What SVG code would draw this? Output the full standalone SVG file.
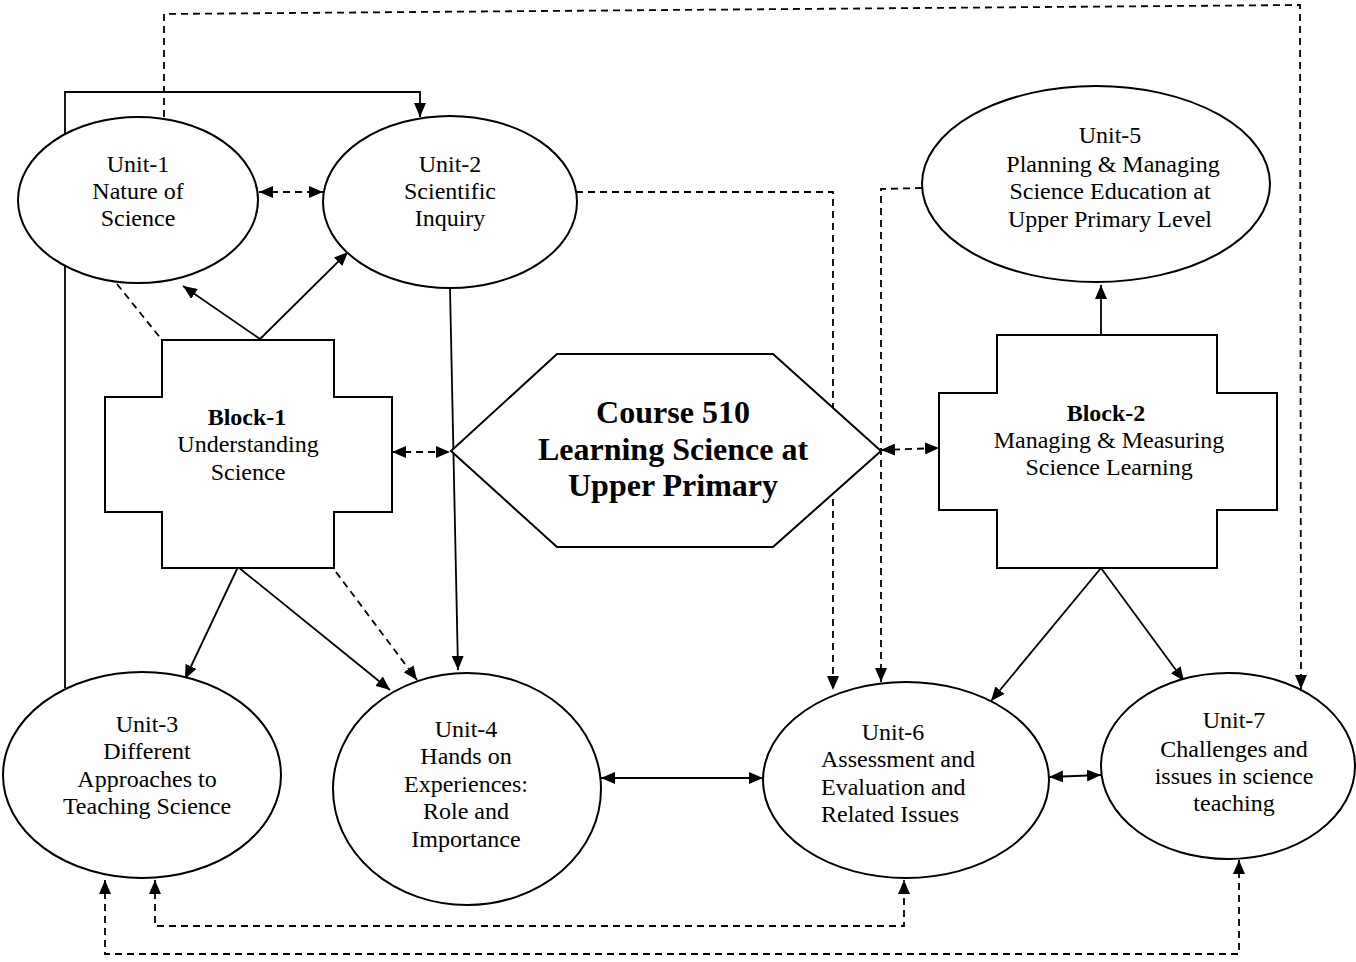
<svg xmlns="http://www.w3.org/2000/svg" width="1356" height="962" viewBox="0 0 1356 962">
<style>
.n{fill:#fff;stroke:#000;stroke-width:2}
.c{fill:none;stroke:#000;stroke-width:1.8}
.d{stroke-dasharray:7,5}
text{font-family:"Liberation Serif","Times New Roman",serif;font-size:24px;fill:#000;text-anchor:middle}
.b{font-weight:bold}
.h{font-size:32px;font-weight:bold}
</style>
<defs>
<marker id="a" viewBox="0 0 14 12" refX="14" refY="6" markerWidth="14" markerHeight="12" markerUnits="userSpaceOnUse" orient="auto-start-reverse"><path d="M0,0 L14,6 L0,12 z" fill="#000"/></marker>
</defs>
<rect width="1356" height="962" fill="#fff"/>
<g id="connectors">
<polyline class="c" points="65,688 65,92 420,92 420,117" marker-end="url(#a)"/>
<polyline class="c d" points="164,117 164,14 1300,5 1301,689" marker-end="url(#a)"/>
<line class="c d" x1="259" y1="192" x2="323" y2="192" marker-start="url(#a)" marker-end="url(#a)"/>
<polyline class="c d" points="576,192 833,192 833,690" marker-end="url(#a)"/>
<polyline class="c d" points="922,188 881,189 881,682" marker-end="url(#a)"/>
<line class="c" x1="1101" y1="336" x2="1101" y2="285" marker-end="url(#a)"/>
<line class="c" x1="260" y1="339" x2="183" y2="286" marker-end="url(#a)"/>
<line class="c" x1="260" y1="339" x2="348" y2="252" marker-end="url(#a)"/>
<line class="c d" x1="117" y1="284" x2="162" y2="340"/>
<line class="c d" x1="392" y1="452" x2="450" y2="452" marker-start="url(#a)" marker-end="url(#a)"/>
<line class="c d" x1="881" y1="450" x2="939" y2="448" marker-start="url(#a)" marker-end="url(#a)"/>
<line class="c" x1="450" y1="288" x2="458" y2="670" marker-end="url(#a)"/>
<line class="c" x1="238" y1="567" x2="185" y2="679" marker-end="url(#a)"/>
<line class="c" x1="238" y1="567" x2="390" y2="690" marker-end="url(#a)"/>
<line class="c d" x1="336" y1="572" x2="417" y2="680" marker-end="url(#a)"/>
<line class="c" x1="1101" y1="568" x2="991" y2="701" marker-end="url(#a)"/>
<line class="c" x1="1101" y1="568" x2="1184" y2="681" marker-end="url(#a)"/>
<line class="c" x1="601" y1="778" x2="763" y2="778" marker-start="url(#a)" marker-end="url(#a)"/>
<line class="c" x1="1049" y1="777" x2="1101" y2="775" marker-start="url(#a)" marker-end="url(#a)"/>
<polyline class="c d" points="105,880 105,954 1239,954 1239,860" marker-start="url(#a)" marker-end="url(#a)"/>
<polyline class="c d" points="155,880 155,926 904,926 904,880" marker-start="url(#a)" marker-end="url(#a)"/>
</g>
<g id="unit1">
<ellipse class="n" cx="138" cy="200" rx="120" ry="83"/>
<text x="138" y="172">Unit-1</text>
<text x="138" y="199">Nature of</text>
<text x="138" y="226">Science</text>
</g>
<g id="unit2">
<ellipse class="n" cx="450" cy="202" rx="127" ry="86"/>
<text x="450" y="172">Unit-2</text>
<text x="450" y="199">Scientific</text>
<text x="450" y="226">Inquiry</text>
</g>
<g id="unit5">
<ellipse class="n" cx="1096" cy="184" rx="174" ry="98"/>
<text x="1110" y="143">Unit-5</text>
<text x="1113" y="172">Planning &amp; Managing</text>
<text x="1110" y="199">Science Education at</text>
<text x="1110" y="227">Upper Primary Level</text>
</g>
<g id="block1">
<polygon class="n" points="162,340 334,340 334,397 392,397 392,512 334,512 334,568 162,568 162,512 105,512 105,397 162,397"/>
<text class="b" x="247" y="425">Block-1</text>
<text x="248" y="452">Understanding</text>
<text x="248" y="480">Science</text>
</g>
<g id="course">
<polygon class="n" points="557,354 773,354 881,451 773,547 557,547 451,451"/>
<text class="h" x="673" y="423">Course 510</text>
<text class="h" x="673" y="460">Learning Science at</text>
<text class="h" x="673" y="496">Upper Primary</text>
</g>
<g id="block2">
<polygon class="n" points="997,335 1217,335 1217,393 1277,393 1277,510 1217,510 1217,568 997,568 997,510 939,510 939,393 997,393"/>
<text class="b" x="1106" y="421">Block-2</text>
<text x="1109" y="448">Managing &amp; Measuring</text>
<text x="1109" y="475">Science Learning</text>
</g>
<g id="unit3">
<ellipse class="n" cx="142" cy="775" rx="139" ry="103"/>
<text x="147" y="732">Unit-3</text>
<text x="147" y="759">Different</text>
<text x="147" y="787">Approaches to</text>
<text x="147" y="814">Teaching Science</text>
</g>
<g id="unit4">
<ellipse class="n" cx="467" cy="789" rx="134" ry="116"/>
<text x="466" y="737">Unit-4</text>
<text x="466" y="764">Hands on</text>
<text x="466" y="792">Experiences:</text>
<text x="466" y="819">Role and</text>
<text x="466" y="847">Importance</text>
</g>
<g id="unit6">
<ellipse class="n" cx="906" cy="780" rx="143" ry="98"/>
<text x="893" y="740">Unit-6</text>
<text x="821" y="767" style="text-anchor:start">Assessment and</text>
<text x="821" y="795" style="text-anchor:start">Evaluation and</text>
<text x="821" y="822" style="text-anchor:start">Related Issues</text>
</g>
<g id="unit7">
<ellipse class="n" cx="1228" cy="766" rx="127" ry="93"/>
<text x="1234" y="728">Unit-7</text>
<text x="1234" y="757">Challenges and</text>
<text x="1234" y="784">issues in science</text>
<text x="1234" y="811">teaching</text>
</g>
</svg>
